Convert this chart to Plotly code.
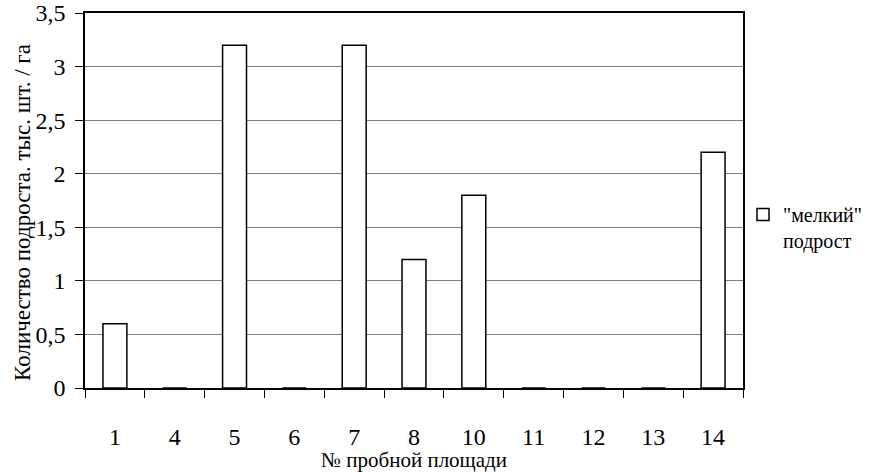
import plotly.graph_objects as go

categories = ["1", "4", "5", "6", "7", "8", "10", "11", "12", "13", "14"]
values = [0.6, 0, 3.2, 0, 3.2, 1.2, 1.8, 0, 0, 0, 2.2]
series_name = '"мелкий"<br>подрост'
y_ticks = [0, 0.5, 1, 1.5, 2, 2.5, 3, 3.5]
x_title = "№ пробной площади"
y_title = "Количество подроста. тыс. шт. / га"

FONT = "Liberation Serif, Times New Roman, serif"

fig = go.Figure()
fig.add_trace(go.Bar(
    x=categories, y=values, name=series_name,
    marker=dict(color="white", line=dict(color="black", width=1.5)),
    showlegend=True,
))

fig.update_layout(
    width=869, height=472,
    margin=dict(l=85, r=126, t=13, b=84, autoexpand=False),
    paper_bgcolor="white", plot_bgcolor="white",
    separators=", ",
    bargap=0.6,
    font=dict(family=FONT, color="black", size=22),
    legend=dict(
        x=1.0, xanchor="left", y=0.515, yanchor="top",
        valign="top",
        font=dict(family=FONT, size=20, color="black"),
        bgcolor="rgba(0,0,0,0)",
    ),
    xaxis=dict(
        type="category",
        showline=True, linecolor="black", linewidth=1.5, mirror=True,
        ticks="outside", ticklen=8, tickcolor="black", tickwidth=1,
        tickson="boundaries",
        ticklabelstandoff=26,
        tickfont=dict(family=FONT, size=24),
        showgrid=False,
        title=dict(text=x_title, font=dict(family=FONT, size=21), standoff=2),
    ),
    yaxis=dict(
        range=[0, 3.5],
        tickvals=y_ticks,
        showline=True, linecolor="black", linewidth=1.5, mirror=True,
        ticks="outside", ticklen=8, tickcolor="black", tickwidth=1,
        ticklabelstandoff=5,
        tickfont=dict(family=FONT, size=24),
        showgrid=True, gridcolor="#808080", gridwidth=1,
        zeroline=False,
    ),
    annotations=[dict(
        text=y_title, textangle=-90,
        xref="paper", yref="paper",
        x=-0.096, y=0.469, xanchor="center", yanchor="middle",
        showarrow=False,
        font=dict(family=FONT, size=23, color="black"),
    )],
)

fig.write_html("out.html")
